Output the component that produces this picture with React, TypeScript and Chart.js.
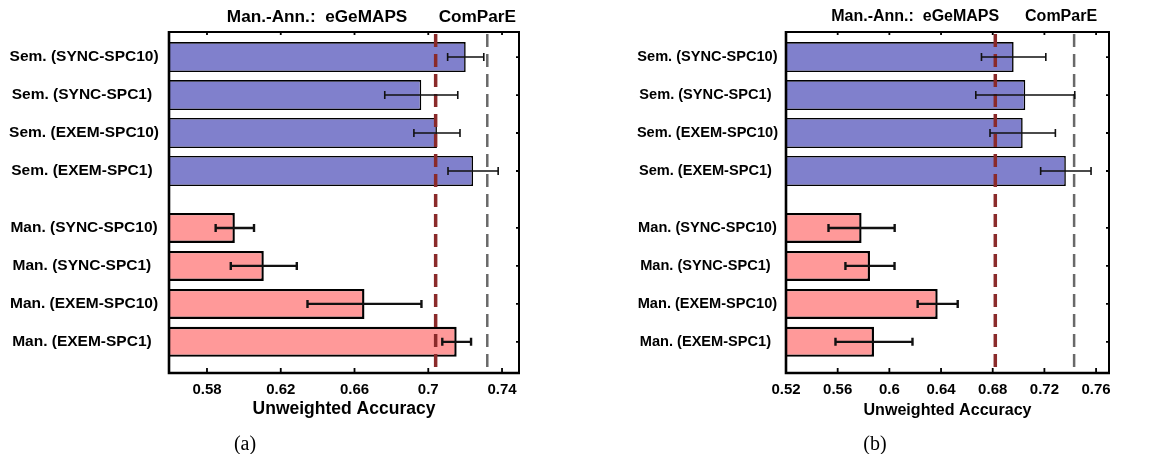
import React, { useEffect, useRef } from "react";
import { Chart, registerables } from "chart.js";

Chart.register(...registerables);

// ---------- data ----------
const categories = [
  "Sem. (SYNC-SPC10)",
  "Sem. (SYNC-SPC1) ",
  "Sem. (EXEM-SPC10)",
  "Sem. (EXEM-SPC1) ",
  "Man. (SYNC-SPC10)",
  "Man. (SYNC-SPC1) ",
  "Man. (EXEM-SPC10)",
  "Man. (EXEM-SPC1) ",
];
const rowIndex = [0, 1, 2, 3, 4.5, 5.5, 6.5, 7.5];
const isSemantic = [true, true, true, true, false, false, false, false];

const valuesA = [0.7203, 0.6962, 0.7047, 0.7243, 0.5951, 0.6108, 0.6654, 0.7154];
const errorsA = [0.0098, 0.0198, 0.0125, 0.0136, 0.0104, 0.0179, 0.0309, 0.0078];
const valuesB = [0.6962, 0.7052, 0.7032, 0.7366, 0.5785, 0.585, 0.6374, 0.5881];
const errorsB = [0.0249, 0.0383, 0.0253, 0.0195, 0.0256, 0.019, 0.0155, 0.0298];

const xTicksA = [0.58, 0.62, 0.66, 0.7, 0.74];
const xTickLabelsA = ["0.58", "0.62", "0.66", "0.7", "0.74"];
const xTicksB = [0.52, 0.56, 0.6, 0.64, 0.68, 0.72, 0.76];
const xTickLabelsB = ["0.52", "0.56", "0.6", "0.64", "0.68", "0.72", "0.76"];

const baselineNames = ["eGeMAPS", "ComParE"];
const baselinesA = [0.704, 0.732];
const baselinesB = [0.682, 0.743];

const annotationLabels = ["Man.-Ann.:  eGeMAPS", "ComParE"];
const annotationPosA = [0.6397, 0.7266];
const annotationPosB = [0.62, 0.7329];

const xTitle = "Unweighted Accuracy";

// ---------- styles ----------
const FONT = "'Liberation Sans', Arial, Helvetica, sans-serif";
const SEM_FILL = "rgb(128,128,204)";
const MAN_FILL = "rgb(255,153,153)";
const BASE_COLORS = ["rgb(138,42,42)", "rgb(105,105,105)"];
const BASE_WIDTHS = [3.5, 2.5];

const overlayPlugin = {
  id: "overlay",
  afterDatasetsDraw(chart: any, _args: any, opts: any) {
    const { ctx, chartArea: ca, scales } = chart;
    const xs = scales.x;
    const ys = scales.y;
    ctx.save();

    // dashed baselines
    opts.baselines.forEach((b: number, i: number) => {
      const px = xs.getPixelForValue(b);
      ctx.beginPath();
      ctx.setLineDash([13, 7]);
      ctx.lineDashOffset = -2;
      ctx.strokeStyle = BASE_COLORS[i];
      ctx.lineWidth = BASE_WIDTHS[i];
      ctx.moveTo(px, ca.top);
      ctx.lineTo(px, ca.bottom);
      ctx.stroke();
    });
    ctx.setLineDash([]);

    // error bars
    opts.values.forEach((v: number, i: number) => {
      const e = opts.errors[i];
      const y = ys.getPixelForValue(rowIndex[i]);
      const x1 = xs.getPixelForValue(v - e);
      const x2 = xs.getPixelForValue(v + e);
      ctx.strokeStyle = "#111";
      ctx.lineWidth = isSemantic[i] ? 1.6 : 2.4;
      const cap = 4;
      ctx.beginPath();
      ctx.moveTo(x1, y);
      ctx.lineTo(x2, y);
      ctx.moveTo(x1, y - cap);
      ctx.lineTo(x1, y + cap);
      ctx.moveTo(x2, y - cap);
      ctx.lineTo(x2, y + cap);
      ctx.stroke();
    });

    // box
    ctx.strokeStyle = "#000";
    ctx.lineWidth = 2;
    ctx.beginPath();
    ctx.moveTo(ca.left, ca.top);
    ctx.lineTo(ca.right, ca.top);
    ctx.lineTo(ca.right, ca.bottom);
    ctx.stroke();
    ctx.lineWidth = 2.6;
    ctx.beginPath();
    ctx.moveTo(ca.left, ca.top - 1);
    ctx.lineTo(ca.left, ca.bottom);
    ctx.lineTo(ca.right + 1, ca.bottom);
    ctx.stroke();

    // inward ticks
    ctx.lineWidth = 1.8;
    ctx.beginPath();
    opts.xTicks.forEach((t: number) => {
      const px = xs.getPixelForValue(t);
      ctx.moveTo(px, ca.bottom);
      ctx.lineTo(px, ca.bottom - 5);
      ctx.moveTo(px, ca.top);
      ctx.lineTo(px, ca.top + 3);
    });
    rowIndex.forEach((r) => {
      const py = ys.getPixelForValue(r);
      ctx.moveTo(ca.right, py);
      ctx.lineTo(ca.right - 3, py);
    });
    ctx.stroke();

    // top annotations
    ctx.fillStyle = "#000";
    ctx.font = `bold ${opts.annSize}px ${FONT}`;
    ctx.textAlign = "center";
    ctx.textBaseline = "middle";
    annotationLabels.forEach((lab, i) => {
      ctx.fillText(lab, xs.getPixelForValue(opts.annPos[i]), ca.top - 15);
    });

    ctx.restore();
  },
};

type PanelProps = {
  width: number;
  height: number;
  values: number[];
  errors: number[];
  xMin: number;
  xMax: number;
  xTicks: number[];
  xTickLabels: string[];
  baselines: number[];
  annPos: number[];
  yAxisWidth: number;
  rightPad: number;
  labelSize: number;
  labelPad: number;
  titleSize: number;
  annSize: number;
};

function Panel(p: PanelProps) {
  const ref = useRef<HTMLCanvasElement>(null);
  useEffect(() => {
    if (!ref.current) return;
    const chart = new Chart(ref.current, {
      type: "bar",
      data: {
        datasets: [
          {
            data: p.values.map((v, i) => ({ x: v, y: rowIndex[i] })),
            backgroundColor: p.values.map((_, i) => (isSemantic[i] ? SEM_FILL : MAN_FILL)),
            borderColor: "#000",
            borderWidth: p.values.map((_, i) => (isSemantic[i] ? 1.6 : 2.4)),
            borderSkipped: false,
            barPercentage: 0.79,
            categoryPercentage: 1,
          } as any,
        ],
      },
      options: {
        indexAxis: "y",
        animation: false,
        responsive: false,
        maintainAspectRatio: false,
        events: [],
        layout: { padding: { top: 32, right: p.rightPad, left: 0, bottom: 34 } },
        plugins: {
          legend: { display: false },
          tooltip: { enabled: false },
          overlay: {
            baselines: p.baselines,
            values: p.values,
            errors: p.errors,
            xTicks: p.xTicks,
            annPos: p.annPos,
            annSize: p.annSize,
          },
        } as any,
        scales: {
          x: {
            type: "linear",
            min: p.xMin,
            max: p.xMax,
            offset: false,
            grid: { display: false, drawTicks: false, offset: false },
            border: { display: false },
            afterBuildTicks: (s: any) => {
              s.ticks = p.xTicks.map((v) => ({ value: v }));
            },
            afterFit: (s: any) => {
              s.height = 47;
            },
            ticks: {
              autoSkip: false,
              maxRotation: 0,
              padding: 8,
              color: "#000",
              font: { family: FONT, size: 15, weight: "bold" },
              callback: (_v: any, i: number) => p.xTickLabels[i],
            },
            title: {
              display: true,
              text: xTitle,
              color: "#000",
              padding: 0,
              font: { family: FONT, size: p.titleSize, weight: "bold" },
            },
          },
          y: {
            type: "linear",
            reverse: true,
            min: -0.66,
            max: 8.32,
            offset: false,
            grid: { display: false, drawTicks: false, offset: false },
            border: { display: false },
            afterBuildTicks: (s: any) => {
              s.ticks = rowIndex.map((v) => ({ value: v }));
            },
            afterFit: (s: any) => {
              s.width = p.yAxisWidth;
            },
            ticks: {
              autoSkip: false,
              crossAlign: "center",
              padding: p.labelPad,
              color: "#000",
              font: { family: FONT, size: p.labelSize, weight: "bold" },
              callback: (_v: any, i: number) => categories[i],
            },
          },
        },
      } as any,
      plugins: [overlayPlugin],
    });
    return () => chart.destroy();
  }, []);
  return <canvas ref={ref} width={p.width} height={p.height} style={{ display: "block" }} />;
}

export default function App() {
  const captionStyle: React.CSSProperties = {
    position: "absolute",
    top: 431,
    fontFamily: "'Liberation Serif', 'Times New Roman', serif",
    fontSize: 20,
    textAlign: "center",
    color: "#000",
    lineHeight: "24px",
  };
  return (
    <div style={{ position: "absolute", left: 0, top: 0, width: 1161, height: 454, background: "#fff" }}>
      <div style={{ position: "absolute", left: 0, top: 0 }}>
        <Panel
          width={580}
          height={454}
          values={valuesA}
          errors={errorsA}
          xMin={0.5594}
          xMax={0.7492}
          xTicks={xTicksA}
          xTickLabels={xTickLabelsA}
          baselines={baselinesA}
          annPos={annotationPosA}
          yAxisWidth={169}
          rightPad={61}
          labelSize={15.5}
          labelPad={10}
          titleSize={17.5}
          annSize={17.2}
        />
      </div>
      <div style={{ position: "absolute", left: 580, top: 0 }}>
        <Panel
          width={581}
          height={454}
          values={valuesB}
          errors={errorsB}
          xMin={0.52}
          xMax={0.77}
          xTicks={xTicksB}
          xTickLabels={xTickLabelsB}
          baselines={baselinesB}
          annPos={annotationPosB}
          yAxisWidth={206}
          rightPad={52}
          labelSize={14.6}
          labelPad={8}
          titleSize={16.1}
          annSize={16}
        />
      </div>
      <div style={{ ...captionStyle, left: 0, width: 490 }}>(a)</div>
      <div style={{ ...captionStyle, left: 775, width: 200 }}>(b)</div>
    </div>
  );
}
